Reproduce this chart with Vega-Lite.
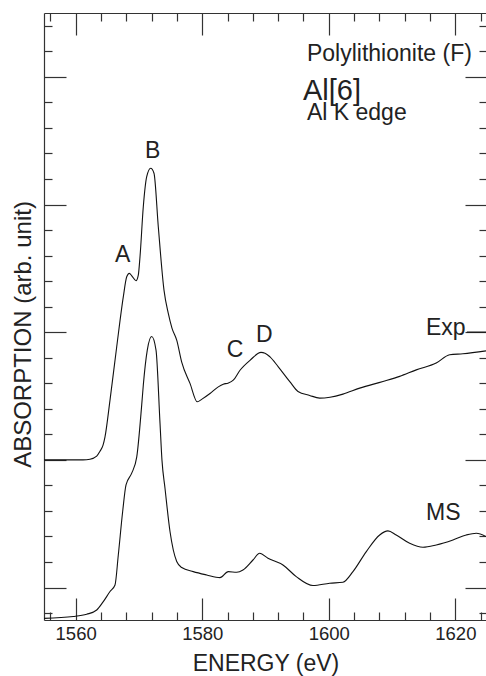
{
  "$schema": "https://vega.github.io/schema/vega-lite/v6.json",
  "width": 443,
  "height": 607,
  "autosize": {"type": "none"},
  "padding": {"left": 44, "top": 13, "right": 0, "bottom": 56},
  "config": {
    "view": {"stroke": null},
    "font": "Liberation Sans",
    "axis": {
      "domainColor": "#333", "domainWidth": 1.2, "tickColor": "#333", "tickWidth": 1.2,
      "labelColor": "#222", "titleColor": "#222", "grid": false,
      "labelFont": "Liberation Sans", "titleFont": "Liberation Sans", "titleFontWeight": "normal"
    }
  },
  "datasets": {
    "curves": [
      {"series": "Exp", "energy": 1555.00, "absorption": 2.000},
      {"series": "Exp", "energy": 1561.16, "absorption": 2.000},
      {"series": "Exp", "energy": 1562.27, "absorption": 2.005},
      {"series": "Exp", "energy": 1563.33, "absorption": 2.029},
      {"series": "Exp", "energy": 1563.85, "absorption": 2.068},
      {"series": "Exp", "energy": 1564.33, "absorption": 2.115},
      {"series": "Exp", "energy": 1564.64, "absorption": 2.180},
      {"series": "Exp", "energy": 1565.43, "absorption": 2.468},
      {"series": "Exp", "energy": 1566.49, "absorption": 2.886},
      {"series": "Exp", "energy": 1567.53, "absorption": 3.277},
      {"series": "Exp", "energy": 1568.07, "absorption": 3.434},
      {"series": "Exp", "energy": 1568.48, "absorption": 3.461},
      {"series": "Exp", "energy": 1568.90, "absorption": 3.440},
      {"series": "Exp", "energy": 1569.54, "absorption": 3.403},
      {"series": "Exp", "energy": 1569.90, "absorption": 3.447},
      {"series": "Exp", "energy": 1570.17, "absorption": 3.591},
      {"series": "Exp", "energy": 1570.69, "absorption": 3.983},
      {"series": "Exp", "energy": 1571.23, "absorption": 4.218},
      {"series": "Exp", "energy": 1571.86, "absorption": 4.284},
      {"series": "Exp", "energy": 1572.38, "absorption": 4.245},
      {"series": "Exp", "energy": 1573.06, "absorption": 3.826},
      {"series": "Exp", "energy": 1573.96, "absorption": 3.330},
      {"series": "Exp", "energy": 1574.64, "absorption": 3.147},
      {"series": "Exp", "energy": 1575.22, "absorption": 3.032},
      {"series": "Exp", "energy": 1575.97, "absorption": 2.938},
      {"series": "Exp", "energy": 1576.76, "absorption": 2.766},
      {"series": "Exp", "energy": 1578.07, "absorption": 2.599},
      {"series": "Exp", "energy": 1579.22, "absorption": 2.455},
      {"series": "Exp", "energy": 1579.96, "absorption": 2.476},
      {"series": "Exp", "energy": 1581.23, "absorption": 2.520},
      {"series": "Exp", "energy": 1582.54, "absorption": 2.572},
      {"series": "Exp", "energy": 1583.33, "absorption": 2.593},
      {"series": "Exp", "energy": 1584.07, "absorption": 2.601},
      {"series": "Exp", "energy": 1584.91, "absorption": 2.624},
      {"series": "Exp", "energy": 1585.97, "absorption": 2.702},
      {"series": "Exp", "energy": 1587.55, "absorption": 2.780},
      {"series": "Exp", "energy": 1589.29, "absorption": 2.842},
      {"series": "Exp", "energy": 1589.92, "absorption": 2.836},
      {"series": "Exp", "energy": 1590.71, "absorption": 2.807},
      {"series": "Exp", "energy": 1592.02, "absorption": 2.729},
      {"series": "Exp", "energy": 1593.87, "absorption": 2.611},
      {"series": "Exp", "energy": 1595.13, "absorption": 2.536},
      {"series": "Exp", "energy": 1596.98, "absorption": 2.505},
      {"series": "Exp", "energy": 1598.56, "absorption": 2.484},
      {"series": "Exp", "energy": 1600.19, "absorption": 2.491},
      {"series": "Exp", "energy": 1602.24, "absorption": 2.515},
      {"series": "Exp", "energy": 1604.88, "absorption": 2.562},
      {"series": "Exp", "energy": 1608.56, "absorption": 2.614},
      {"series": "Exp", "energy": 1611.20, "absorption": 2.654},
      {"series": "Exp", "energy": 1613.83, "absorption": 2.705},
      {"series": "Exp", "energy": 1616.98, "absorption": 2.758},
      {"series": "Exp", "energy": 1619.10, "absorption": 2.823},
      {"series": "Exp", "energy": 1621.20, "absorption": 2.831},
      {"series": "Exp", "energy": 1624.84, "absorption": 2.854},
      {"series": "MS", "energy": 1555.00, "absorption": 0.759},
      {"series": "MS", "energy": 1559.63, "absorption": 0.773},
      {"series": "MS", "energy": 1561.75, "absorption": 0.791},
      {"series": "MS", "energy": 1563.33, "absorption": 0.824},
      {"series": "MS", "energy": 1564.37, "absorption": 0.890},
      {"series": "MS", "energy": 1565.43, "absorption": 0.969},
      {"series": "MS", "energy": 1566.22, "absorption": 1.020},
      {"series": "MS", "energy": 1566.74, "absorption": 1.255},
      {"series": "MS", "energy": 1567.43, "absorption": 1.596},
      {"series": "MS", "energy": 1567.96, "absorption": 1.804},
      {"series": "MS", "energy": 1568.86, "absorption": 1.896},
      {"series": "MS", "energy": 1569.65, "absorption": 2.021},
      {"series": "MS", "energy": 1570.44, "absorption": 2.431},
      {"series": "MS", "energy": 1570.69, "absorption": 2.585},
      {"series": "MS", "energy": 1571.32, "absorption": 2.860},
      {"series": "MS", "energy": 1572.02, "absorption": 2.966},
      {"series": "MS", "energy": 1572.70, "absorption": 2.860},
      {"series": "MS", "energy": 1573.33, "absorption": 2.288},
      {"series": "MS", "energy": 1573.64, "absorption": 1.998},
      {"series": "MS", "energy": 1574.12, "absorption": 1.778},
      {"series": "MS", "energy": 1574.91, "absorption": 1.439},
      {"series": "MS", "energy": 1575.97, "absorption": 1.204},
      {"series": "MS", "energy": 1576.76, "absorption": 1.157},
      {"series": "MS", "energy": 1578.59, "absorption": 1.125},
      {"series": "MS", "energy": 1580.71, "absorption": 1.099},
      {"series": "MS", "energy": 1582.81, "absorption": 1.078},
      {"series": "MS", "energy": 1584.12, "absorption": 1.125},
      {"series": "MS", "energy": 1585.45, "absorption": 1.120},
      {"series": "MS", "energy": 1586.44, "absorption": 1.138},
      {"series": "MS", "energy": 1588.02, "absorption": 1.216},
      {"series": "MS", "energy": 1589.08, "absorption": 1.269},
      {"series": "MS", "energy": 1590.39, "absorption": 1.230},
      {"series": "MS", "energy": 1592.76, "absorption": 1.177},
      {"series": "MS", "energy": 1594.86, "absorption": 1.086},
      {"series": "MS", "energy": 1597.50, "absorption": 1.016},
      {"series": "MS", "energy": 1600.14, "absorption": 1.034},
      {"series": "MS", "energy": 1602.24, "absorption": 1.042},
      {"series": "MS", "energy": 1603.82, "absorption": 1.125},
      {"series": "MS", "energy": 1605.93, "absorption": 1.282},
      {"series": "MS", "energy": 1608.04, "absorption": 1.412},
      {"series": "MS", "energy": 1609.35, "absorption": 1.444},
      {"series": "MS", "energy": 1610.66, "absorption": 1.412},
      {"series": "MS", "energy": 1612.78, "absorption": 1.347},
      {"series": "MS", "energy": 1614.88, "absorption": 1.316},
      {"series": "MS", "energy": 1616.98, "absorption": 1.334},
      {"series": "MS", "energy": 1619.62, "absorption": 1.373},
      {"series": "MS", "energy": 1621.72, "absorption": 1.412},
      {"series": "MS", "energy": 1623.31, "absorption": 1.426},
      {"series": "MS", "energy": 1624.84, "absorption": 1.400}
    ],
    "labels": [
      {"label": "A", "energy": 1566.22, "absorption": 3.549},
      {"label": "B", "energy": 1570.96, "absorption": 4.364},
      {"label": "C", "energy": 1583.87, "absorption": 2.807},
      {"label": "D", "energy": 1588.50, "absorption": 2.920},
      {"label": "Exp", "energy": 1615.36, "absorption": 2.977},
      {"label": "MS", "energy": 1615.36, "absorption": 1.527},
      {"label": "Polylithionite (F)", "energy": 1596.55, "absorption": 5.125},
      {"label": "Al[6]", "energy": 1595.92, "absorption": 4.819},
      {"label": "Al K edge", "energy": 1596.55, "absorption": 4.663}
    ],
    "leaders": [
      {"series": "Exp", "energy": 1621.84, "energy_end": 1626, "absorption": 3.001}
    ]
  },
  "resolve": {"axis": {"x": "independent", "y": "independent"}},
  "layer": [
    {
      "data": {"name": "curves"},
      "transform": [{"filter": "datum.series == 'Exp'"}],
      "mark": {"type": "line", "color": "#111", "strokeWidth": 1.1, "clip": true, "interpolate": "monotone"},
      "encoding": {
        "x": {"field": "energy", "type": "quantitative",
              "scale": {"domain": [1555, 1625], "nice": false, "zero": false},
              "axis": {"orient": "bottom", "values": [1560, 1580, 1600, 1620], "tickSize": -22, "format": "d",
                       "labelFontSize": 18.5, "labelBaseline": "alphabetic", "labelPadding": 41.6,
                       "title": "ENERGY (eV)", "titleFontSize": 23, "titleBaseline": "alphabetic",
                       "titleY": 50, "labelFlush": false}},
        "y": {"field": "absorption", "type": "quantitative",
              "scale": {"domain": [0.746, 5.5], "nice": false, "zero": false},
              "axis": {"orient": "left", "values": [1, 2, 3, 4, 5], "tickSize": -22, "labels": false,
                       "title": "ABSORPTION (arb. unit)", "titleFontSize": 24, "titleAngle": -90,
                       "titleBaseline": "alphabetic", "titleAlign": "center", "titleX": -13.3, "titleY": 321}}
      }
    },
    {
      "data": {"name": "curves"},
      "transform": [{"filter": "datum.series == 'MS'"}],
      "mark": {"type": "line", "color": "#111", "strokeWidth": 1.1, "clip": true, "interpolate": "monotone"},
      "encoding": {
        "x": {"field": "energy", "type": "quantitative",
              "axis": {"orient": "bottom", "values": [1556, 1564, 1568, 1572, 1576, 1584, 1588, 1592, 1596, 1604, 1608, 1612, 1616, 1624],
                       "tickSize": -8, "labels": false, "domain": false, "title": null}},
        "y": {"field": "absorption", "type": "quantitative",
              "axis": {"orient": "left", "values": [0.8, 1.2, 1.4, 1.6, 1.8, 2.2, 2.4, 2.6, 2.8, 3.2, 3.4, 3.6, 3.8, 4.2, 4.4, 4.6, 4.8, 5.2, 5.4],
                       "tickSize": -8, "labels": false, "domain": false, "title": null}}
      }
    },
    {
      "data": {"name": "labels"},
      "transform": [{"filter": "datum.label != 'Al[6]'"}],
      "mark": {"type": "text", "align": "left", "baseline": "alphabetic", "fontSize": 23, "color": "#222", "font": "Liberation Sans"},
      "encoding": {
        "x": {"field": "energy", "type": "quantitative",
              "axis": {"orient": "top", "values": [1560, 1580, 1600, 1620], "tickSize": -22, "labels": false, "title": null}},
        "y": {"field": "absorption", "type": "quantitative",
              "axis": {"orient": "right", "values": [1, 2, 3, 4, 5], "tickSize": -22, "labels": false, "title": null}},
        "text": {"field": "label"}
      }
    },
    {
      "data": {"name": "labels"},
      "transform": [{"filter": "datum.label == 'Al[6]'"}],
      "mark": {"type": "text", "align": "left", "baseline": "alphabetic", "fontSize": 29, "color": "#222", "font": "Liberation Sans"},
      "encoding": {
        "x": {"field": "energy", "type": "quantitative",
              "axis": {"orient": "top", "values": [1556, 1564, 1568, 1572, 1576, 1584, 1588, 1592, 1596, 1604, 1608, 1612, 1616, 1624],
                       "tickSize": -8, "labels": false, "domain": false, "title": null}},
        "y": {"field": "absorption", "type": "quantitative",
              "axis": {"orient": "right", "values": [0.8, 1.2, 1.4, 1.6, 1.8, 2.2, 2.4, 2.6, 2.8, 3.2, 3.4, 3.6, 3.8, 4.2, 4.4, 4.6, 4.8, 5.2, 5.4],
                       "tickSize": -8, "labels": false, "domain": false, "title": null}},
        "text": {"field": "label"}
      }
    },
    {
      "data": {"name": "leaders"},
      "mark": {"type": "rule", "color": "#111", "strokeWidth": 1, "clip": true},
      "encoding": {
        "x": {"field": "energy", "type": "quantitative", "axis": null},
        "x2": {"field": "energy_end"},
        "y": {"field": "absorption", "type": "quantitative", "axis": null}
      }
    }
  ]
}
